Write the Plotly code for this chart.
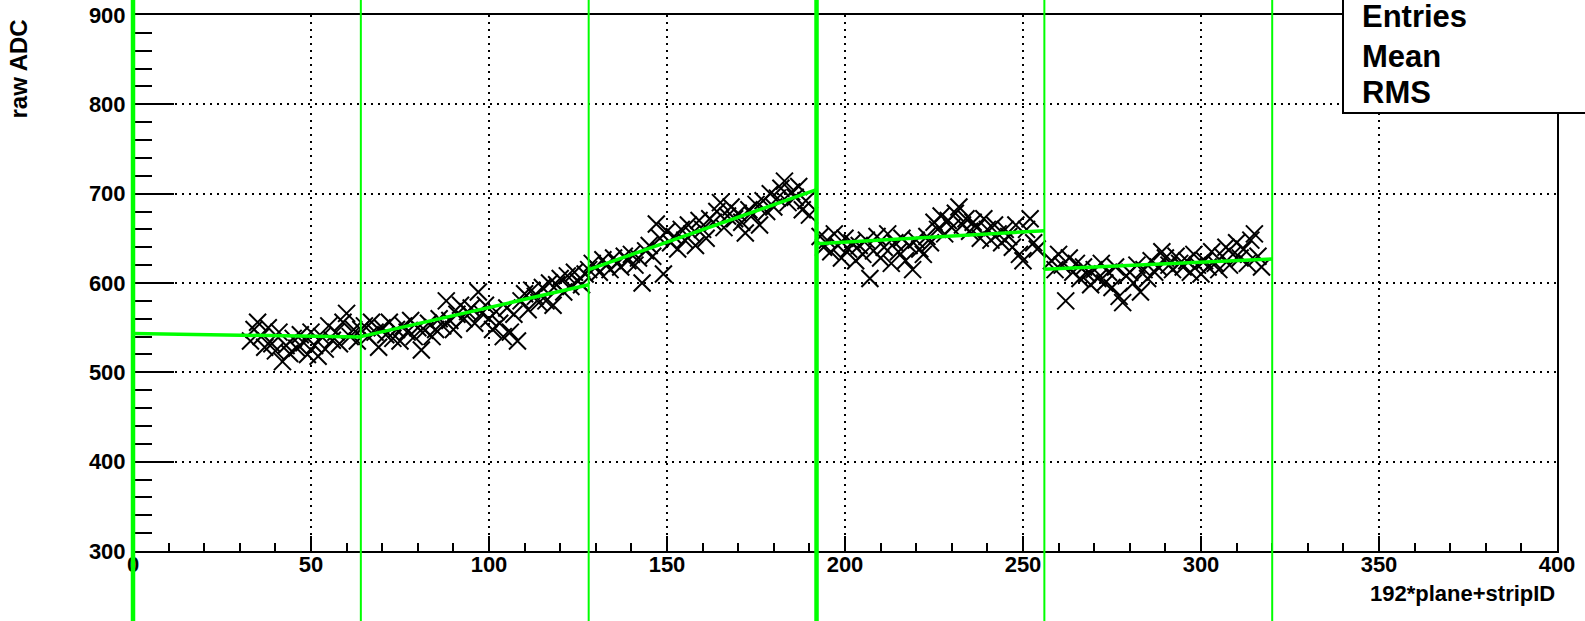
import plotly.graph_objects as go

# ---------------- data ----------------
seg_a_x = list(range(33, 64))
seg_a_y = [535, 548, 556, 540, 528, 550, 532, 524, 545, 512, 530, 521, 538, 527, 542, 533,
           520, 545, 530, 518, 540, 526, 552, 536, 545, 532, 556, 566, 540, 548, 535]

seg_b_x = list(range(64, 128))
seg_b_y = [548, 552, 540, 556, 545, 528, 550, 542, 556, 538, 548, 535, 552, 545, 558, 540,
           550, 525, 547, 555, 540, 548, 560, 552, 580, 558, 548, 565, 575, 560, 568, 572,
           555, 590, 566, 575, 560, 548, 568, 555, 540, 572, 545, 565, 535, 580, 588, 570,
           592, 585, 578, 595, 580, 600, 575, 598, 605, 590, 608, 596, 612, 602, 598, 610]

seg_c_x = list(range(128, 191))
seg_c_y = [615, 622, 618, 612, 626, 620, 615, 628, 622, 618, 630, 625, 632, 620, 628, 600,
           636, 642, 630, 666, 650, 610, 658, 645, 652, 638, 660, 648, 665, 655, 642, 670,
           660, 650, 672, 668, 680, 690, 662, 675, 685, 672, 678, 668, 656, 682, 676, 688,
           665, 692, 680, 700, 685, 695, 706, 714, 690, 702, 696, 708, 682, 692, 676]

seg_d_x = list(range(193, 255))
seg_d_y = [652, 640, 648, 635, 655, 642, 628, 650, 638, 645, 625, 642, 632, 648, 605, 636,
           652, 628, 640, 655, 622, 645, 635, 650, 625, 642, 615, 648, 638, 632, 652, 645,
           668, 660, 675, 655, 670, 662, 678, 685, 665, 672, 658, 668, 662, 650, 672, 660,
           648, 665, 655, 645, 660, 652, 640, 665, 632, 625, 660, 672, 645, 638]

seg_e_x = list(range(258, 318))
seg_e_y = [625, 615, 632, 620, 580, 628, 612, 622, 605, 618, 610, 598, 615, 605, 622, 600,
           612, 595, 618, 585, 578, 608, 612, 600, 620, 590, 615, 605, 625, 612, 618, 635,
           628, 620, 615, 630, 622, 618, 625, 612, 632, 620, 610, 625, 618, 635, 622, 615,
           630, 640, 620, 632, 645, 628, 638, 622, 648, 655, 630, 618]

# fitted lines (one per chip section)
fit_x = [[0, 64], [64, 128], [128, 192], [192, 256], [256, 320]]
fit_y = [[543.5, 539.5], [540, 598], [615, 704.5], [644, 658.5], [615.5, 627]]

# section boundaries
bounds = [0, 64, 128, 192, 256, 320]
thick_bounds = [0, 192]

x_range = [0, 400]
y_range = [300, 900]
x_ticks = [0, 50, 100, 150, 200, 250, 300, 350, 400]
y_ticks = [300, 400, 500, 600, 700, 800, 900]

stats_labels = ["Entries", "Mean", "RMS"]

# ---------------- figure ----------------
W, H = 1585, 621
L, T = 133, 15
plot_w, plot_h = 1424, 536
R = W - L - plot_w
B = H - T - plot_h

GREEN = "#00ff00"
FONT = "Liberation Sans"


def py(px):
    """pixel row -> paper y"""
    return (T + plot_h - px) / plot_h


def pxx(px):
    return (px - L) / plot_w


fig = go.Figure()

all_x = seg_a_x + seg_b_x + seg_c_x + seg_d_x + seg_e_x
all_y = seg_a_y + seg_b_y + seg_c_y + seg_d_y + seg_e_y
fig.add_trace(go.Scatter(
    x=all_x, y=all_y, mode="markers",
    marker=dict(symbol="x-thin-open", size=17, color="black",
                line=dict(color="black", width=2)),
    showlegend=False, hoverinfo="x+y"))

for fx, fy in zip(fit_x, fit_y):
    fig.add_trace(go.Scatter(x=fx, y=fy, mode="lines",
                             line=dict(color=GREEN, width=3.5),
                             showlegend=False))

shapes = []
for b in bounds:
    w = 4.5 if b in thick_bounds else 2
    if b <= x_range[0]:
        xref = "x domain"
        xv = (b - x_range[0]) / (x_range[1] - x_range[0])
    else:
        xref = "x"
        xv = b
    shapes.append(dict(type="line", xref=xref, yref="paper",
                       x0=xv, x1=xv, y0=py(H + 20), y1=py(-20),
                       line=dict(color=GREEN, width=w), layer="above"))

# stats box
shapes.append(dict(type="rect", xref="paper", yref="paper",
                   x0=pxx(1343), x1=pxx(W + 40), y0=py(113), y1=py(-40),
                   fillcolor="white", line=dict(color="black", width=2),
                   layer="above"))
fig.update_layout(shapes=shapes)

annotations = []
for lab, ypx in zip(stats_labels, [16.5, 56.5, 92.5]):
    annotations.append(dict(text=lab, xref="paper", yref="paper",
                            x=pxx(1361), y=py(ypx), xanchor="left", yanchor="middle",
                            showarrow=False, borderpad=0,
                            font=dict(family=FONT, size=31, color="black", weight="bold")))
annotations.append(dict(text="192*plane+stripID", xref="paper", yref="paper",
                        x=1.0, y=py(593), xanchor="right", yanchor="middle",
                        showarrow=False,
                        font=dict(family=FONT, size=22, color="black", weight="bold")))
annotations.append(dict(text="raw ADC", xref="paper", yref="paper",
                        x=pxx(18), y=py(18), xanchor="center", yanchor="top",
                        textangle=-90, showarrow=False,
                        font=dict(family=FONT, size=24, color="black", weight="bold")))
fig.update_layout(annotations=annotations)

fig.update_xaxes(
    range=x_range, tickvals=x_ticks, ticktext=[str(v) for v in x_ticks],
    ticks="inside", ticklen=15, tickwidth=1.5, tickcolor="black",
    minor=dict(dtick=10, tick0=0, ticks="inside", ticklen=8, tickwidth=1.5,
               tickcolor="black", showgrid=False),
    showline=True, linecolor="black", linewidth=2, mirror=True,
    showgrid=True, gridcolor="black", gridwidth=1.5, griddash="2px,5px",
    zeroline=False, ticklabelstandoff=-7, automargin=False,
    ticklabeloverflow="allow",
    tickfont=dict(family=FONT, size=22, color="black", weight="bold"))

fig.update_yaxes(
    range=y_range, tickvals=y_ticks, ticktext=[str(v) for v in y_ticks],
    ticks="inside", ticklen=41, tickwidth=1.5, tickcolor="black",
    minor=dict(dtick=20, tick0=300, ticks="inside", ticklen=19, tickwidth=1.5,
               tickcolor="black", showgrid=False),
    showline=True, linecolor="black", linewidth=2, mirror=True,
    showgrid=True, gridcolor="black", gridwidth=1.5, griddash="2px,5px",
    zeroline=False, ticklabelstandoff=1, automargin=False,
    ticklabeloverflow="allow",
    tickfont=dict(family=FONT, size=22, color="black", weight="bold"))

fig.update_layout(
    width=W, height=H,
    margin=dict(l=L, r=R, t=T, b=B, pad=0, autoexpand=False),
    plot_bgcolor="white", paper_bgcolor="white",
    showlegend=False,
)

fig.write_html(
    "out.html",
    config={"displayModeBar": False},
    post_script="document.body.style.margin='0';document.body.style.overflow='hidden';",
)
